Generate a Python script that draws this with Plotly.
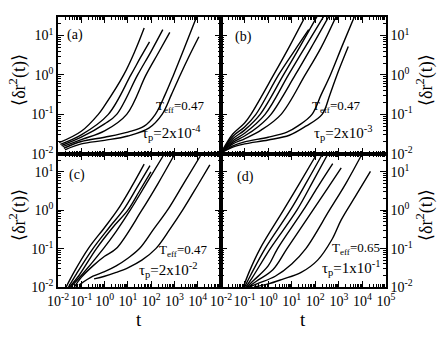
import numpy as np
import plotly.graph_objects as go
from plotly.subplots import make_subplots

# log10(t) and log10(<dr^2>), panel by panel
# panel (a): T_eff=0.47, tau_p=2x10^-4
a_lt = [
    [-1.95, -1.0, -0.27, 0.0, 0.82, 1.3, 1.70],
    [-1.9, -1.0, 0.16, 1.13, 1.55, 1.93],
    [-1.85, -1.0, 0.0, 0.52, 1.42, 2.0, 2.5],
    [-1.8, -1.0, 0.0, 0.95, 1.78, 2.3, 2.8],
    [-1.75, -1.0, 0.0, 1.0, 1.7, 2.18, 2.6, 2.96, 3.45, 3.95],
    [-1.7, -1.0, 0.0, 1.0, 1.9, 2.47, 2.87, 3.25, 3.65, 4.05],
]
a_lv = [
    [-1.72, -1.43, -1.0, -0.78, 0.0, 0.6, 1.19],
    [-1.76, -1.52, -1.0, 0.0, 0.45, 0.84],
    [-1.79, -1.58, -1.24, -1.0, 0.0, 0.6, 1.15],
    [-1.82, -1.64, -1.42, -1.0, 0.0, 0.55, 1.08],
    [-1.86, -1.69, -1.58, -1.45, -1.3, -1.0, -0.5, 0.0, 0.72, 1.47],
    [-1.9, -1.75, -1.66, -1.55, -1.35, -1.0, -0.5, 0.0, 0.5, 0.97],
]

# panel (b): T_eff=0.47, tau_p=2x10^-3
b_lt = [
    [-2.0, -1.5, -1.0, -0.73, 0.23, 0.9, 1.57],
    [-2.0, -1.5, -1.0, -0.52, 0.44, 1.1, 1.72],
    [-2.0, -1.5, -1.0, -0.34, 0.65, 1.35, 2.07],
    [-2.0, -1.5, -1.0, -0.13, 0.86, 1.6, 2.35],
    [-2.0, -1.5, -1.0, -0.4, 0.12, 1.15, 1.87, 2.57],
    [-2.0, -1.5, -1.0, -0.3, 0.55, 1.57, 2.25, 2.88],
    [-2.0, -1.5, -1.0, 0.0, 0.8, 1.3, 1.86, 2.25, 2.64, 3.15, 3.66],
    [-2.0, -1.5, -1.0, 0.0, 0.9, 1.6, 2.29, 2.62, 2.92, 3.4],
]
b_lv = [
    [-1.98, -1.5, -1.22, -1.0, 0.0, 0.72, 1.48],
    [-1.98, -1.56, -1.32, -1.0, 0.0, 0.6, 1.15],
    [-1.98, -1.62, -1.4, -1.0, 0.0, 0.72, 1.48],
    [-1.98, -1.67, -1.48, -1.0, 0.0, 0.74, 1.48],
    [-1.98, -1.71, -1.55, -1.3, -1.0, 0.0, 0.74, 1.48],
    [-1.98, -1.75, -1.62, -1.4, -1.0, 0.0, 0.7, 1.48],
    [-1.98, -1.8, -1.7, -1.58, -1.45, -1.28, -1.0, -0.5, 0.0, 0.75, 1.48],
    [-1.98, -1.83, -1.75, -1.65, -1.53, -1.3, -1.0, -0.5, 0.0, 0.72],
]

# panel (c): T_eff=0.47, tau_p=2x10^-2
c_lt = [
    [-1.65, -1.3, -0.7, 0.0, 0.55, 1.15, 1.70],
    [-1.55, -1.2, -0.5, 0.2, 0.8, 1.4, 1.95],
    [-1.5, -1.1, -0.35, 0.35, 1.0, 1.5, 1.99],
    [-1.45, -1.0, -0.05, 0.5, 1.1, 1.85, 2.57],
    [-1.3, -1.0, -0.5, 0.0, 0.5, 1.6, 2.3, 3.02],
    [-1.1, -0.5, 0.0, 0.5, 1.0, 1.5, 2.1, 2.7, 3.4, 4.17],
    [-0.45, 0.0, 0.5, 1.0, 1.6, 2.2, 2.8, 3.35, 4.0, 4.52],
]
c_lv = [
    [-2.0, -1.6, -1.0, -0.45, 0.0, 0.6, 1.2],
    [-2.0, -1.65, -1.0, -0.45, 0.0, 0.6, 1.16],
    [-2.0, -1.7, -1.0, -0.45, 0.0, 0.5, 1.0],
    [-2.0, -1.7, -1.0, -0.55, 0.0, 0.75, 1.47],
    [-2.0, -1.75, -1.45, -1.2, -1.0, 0.0, 0.7, 1.47],
    [-1.95, -1.72, -1.6, -1.45, -1.25, -1.0, -0.5, 0.0, 0.7, 1.47],
    [-1.79, -1.72, -1.62, -1.5, -1.3, -1.0, -0.5, 0.0, 0.65, 1.18],
]

# panel (d): T_eff=0.65, tau_p=1x10^-1
d_lt = [
    [-1.05, -0.8, -0.34, 0.65, 1.35, 2.07],
    [-1.0, -0.75, -0.13, 0.94, 1.65, 2.31],
    [-0.95, -0.7, 0.09, 1.22, 1.9, 2.54],
    [-0.9, -0.6, 0.0, 0.40, 1.49, 2.1, 2.74],
    [-0.85, -0.5, 0.2, 0.8, 1.9, 2.5, 3.1],
    [-0.8, -0.4, 0.3, 1.0, 1.6, 2.6, 3.3, 3.99],
    [-0.6, 0.0, 0.6, 1.4, 2.1, 2.7, 3.1, 3.7, 4.34],
]
d_lv = [
    [-2.0, -1.6, -1.0, 0.0, 0.72, 1.47],
    [-2.0, -1.7, -1.0, 0.0, 0.75, 1.47],
    [-2.0, -1.78, -1.0, 0.0, 0.75, 1.47],
    [-2.0, -1.82, -1.45, -1.0, 0.0, 0.6, 1.21],
    [-2.0, -1.85, -1.55, -1.0, 0.0, 0.55, 1.1],
    [-2.0, -1.9, -1.72, -1.4, -1.0, 0.0, 0.7, 1.47],
    [-2.0, -1.92, -1.8, -1.62, -1.3, -0.77, -0.25, 0.36, 1.01],
]

panels = [(a_lt, a_lv, 1, 1), (b_lt, b_lv, 1, 2), (c_lt, c_lv, 2, 1), (d_lt, d_lv, 2, 2)]

fig = make_subplots(rows=2, cols=2, horizontal_spacing=0, vertical_spacing=0)

for lts, lvs, r, c in panels:
    for lt, lv in zip(lts, lvs):
        fig.add_trace(go.Scatter(
            x=10 ** np.array(lt), y=10 ** np.array(lv),
            mode="lines", line=dict(color="black", width=1.4, shape="spline", smoothing=1.0),
            showlegend=False), row=r, col=c)

font = "Liberation Serif, Times New Roman, serif"
x_major = [10.0 ** k for k in range(-2, 6)]
y_major = [10.0 ** k for k in range(-2, 2)]
x_minor = [m * 10.0 ** k for k in range(-2, 5) for m in range(2, 10)]
y_minor = [m * 10.0 ** k for k in range(-2, 2) for m in range(2, 10)]


def pow_text(vals, hide_last=False):
    out = ["10<sup>%d</sup>" % round(np.log10(v)) for v in vals]
    if hide_last:
        out[-1] = ""
    return out


common = dict(type="log", ticks="inside", ticklen=6, tickwidth=1, tickcolor="black",
              showline=True, linecolor="black", linewidth=1.5, mirror="allticks",
              showgrid=False, zeroline=False, tickmode="array", tickangle=0,
              tickfont=dict(family=font, size=14, color="black"),
              minor=dict(ticks="inside", ticklen=3, tickwidth=1, tickcolor="black", showgrid=False))

for i, (dom, show, hide_last) in enumerate([([0, 0.497], False, False), ([0.497, 1], False, False),
                                             ([0, 0.497], True, True), ([0.497, 1], True, False)]):
    ax = dict(common)
    ax.update(domain=dom, range=[-2, 5], tickvals=x_major, ticktext=pow_text(x_major, hide_last),
              showticklabels=show, minor=dict(common["minor"], tickvals=x_minor))
    fig.layout["xaxis" + ("" if i == 0 else str(i + 1))].update(ax)

for i, (dom, side) in enumerate([([0.4935, 1], "left"), ([0.4935, 1], "right"),
                                  ([0, 0.4935], "left"), ([0, 0.4935], "right")]):
    ax = dict(common)
    ax.update(domain=dom, range=[-2, 1.47], tickvals=y_major, ticktext=pow_text(y_major),
              side=side, showticklabels=True, minor=dict(common["minor"], tickvals=y_minor))
    fig.layout["yaxis" + ("" if i == 0 else str(i + 1))].update(ax)

notes = [
    (0.021, 0.933, "(a)", 14), (0.534, 0.926, "(b)", 14),
    (0.027, 0.415, "(c)", 14), (0.540, 0.407, "(d)", 14),
    (0.293, 0.667, "T<sub>eff</sub>=0.47", 13), (0.25, 0.57, "τ<sub>p</sub>=2x10<sup>-4</sup>", 15),
    (0.768, 0.667, "T<sub>eff</sub>=0.47", 13), (0.774, 0.57, "τ<sub>p</sub>=2x10<sup>-3</sup>", 15),
    (0.302, 0.137, "T<sub>eff</sub>=0.47", 13), (0.241, 0.063, "τ<sub>p</sub>=2x10<sup>-2</sup>", 15),
    (0.829, 0.144, "T<sub>eff</sub>=0.65", 13), (0.799, 0.07, "τ<sub>p</sub>=1x10<sup>-1</sup>", 15),
]
for x, y, txt, size in notes:
    fig.add_annotation(x=x, y=y, xref="paper", yref="paper", text=txt, showarrow=False,
                       xanchor="left", yanchor="middle", font=dict(family=font, size=size, color="black"))

ylab = "⟨δr<sup>2</sup>(t)⟩"
for x, y in [(-0.122, 0.767), (1.119, 0.767), (-0.122, 0.267), (1.119, 0.267)]:
    fig.add_annotation(x=x, y=y, xref="paper", yref="paper", text=ylab, textangle=-90,
                       showarrow=False, xanchor="center", yanchor="middle",
                       font=dict(family="Liberation Serif, DejaVu Serif, serif", size=18, color="black"))
for x in [0.248, 0.748]:
    fig.add_annotation(x=x, y=-0.122, xref="paper", yref="paper", text="t", showarrow=False,
                       xanchor="center", yanchor="middle", font=dict(family=font, size=19, color="black"))

fig.update_layout(width=443, height=342, margin=dict(l=58, r=57, t=17, b=55),
                  paper_bgcolor="white", plot_bgcolor="white", showlegend=False)

# drop the browser's default body margin so the figure sits at the page corner
fig.write_html("out.html", config={"displayModeBar": False},
               post_script="document.body.style.margin='0';")
